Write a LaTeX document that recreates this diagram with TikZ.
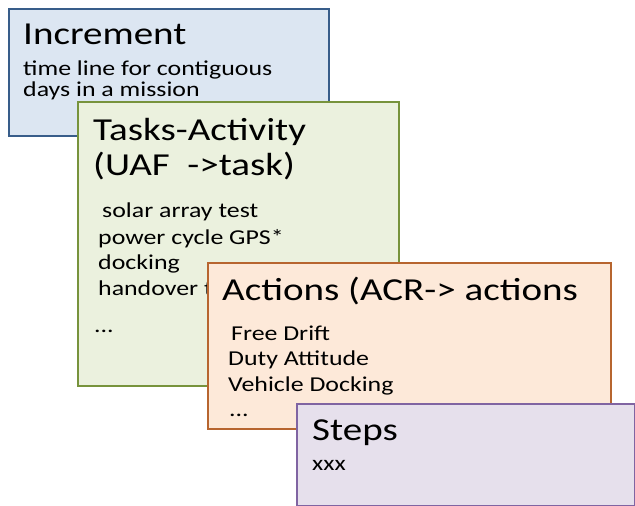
\documentclass[tikz,border=0pt]{standalone}
\usepackage{fontspec}
\setmainfont{Carlito}[FakeStretch=1.22]

\definecolor{incfill}{HTML}{DCE6F2}
\definecolor{incline}{HTML}{385D8A}
\definecolor{taskfill}{HTML}{EBF1DE}
\definecolor{taskline}{HTML}{77933C}
\definecolor{actfill}{HTML}{FDE9D9}
\definecolor{actline}{HTML}{B7652F}
\definecolor{stepfill}{HTML}{E6E0EC}
\definecolor{stepline}{HTML}{8064A2}

\tikzset{
  card/.style={draw, rectangle, line width=2pt, inner sep=0pt, anchor=north west},
  head/.style={font=\fontsize{32}{36}\selectfont, inner sep=0pt, anchor=base west},
  body/.style={font=\fontsize{21.2}{24}\selectfont, inner sep=0pt, anchor=base west}
}

\begin{document}
\begin{tikzpicture}[x=1pt, y=-1pt]
			%%%%% START %%%%%
			\useasboundingbox (0, 0) rectangle (635, 506);
			
			% increment
			\node[card, fill=incfill, draw=incline, minimum width=320, minimum height=127] (increment) at (8, 8) {};
			\node[head] (inctitle) at (23, 45) {Increment};
			\node[body] (incline1) at (23, 75) {time line for contiguous};
			\node[body] (incline2) at (23, 96) {days in a mission};
			
			% tasks
			\node[card, fill=taskfill, draw=taskline, minimum width=321, minimum height=284] (tasks) at (77, 101) {};
			\node[head] (tasktitle1) at (93, 140) {Tasks-Activity};
			\node[head] (tasktitle2) at (93, 175) {(UAF \ ->task)};
			\node[body] (task1) at (102, 217) {solar array test};
			\node[body] (task2) at (98, 244) {power cycle GPS*};
			\node[body] (task3) at (98, 269) {docking};
			\node[body] (task4) at (98, 295) {handover t};
			\node[body] (task5) at (94, 332) {...};
			
			% actions
			\node[card, fill=actfill, draw=actline, minimum width=403, minimum height=166] (actions) at (207, 262) {};
			\node[head] (acttitle) at (222, 300) {Actions (ACR-> actions};
			\node[body] (act1) at (231, 340) {Free Drift};
			\node[body] (act2) at (228, 365) {Duty Attitude};
			\node[body] (act3) at (228, 391) {Vehicle Docking};
			\node[body] (act4) at (229, 416) {...};
			
			% steps
			\node[card, fill=stepfill, draw=stepline, minimum width=338, minimum height=102] (steps) at (296, 403) {};
			\node[head] (steptitle) at (312, 440) {Steps};
			\node[body] (step1) at (312, 470) {xxx};
			
			%%%%% END %%%%%
		\end{tikzpicture}
\end{document}
